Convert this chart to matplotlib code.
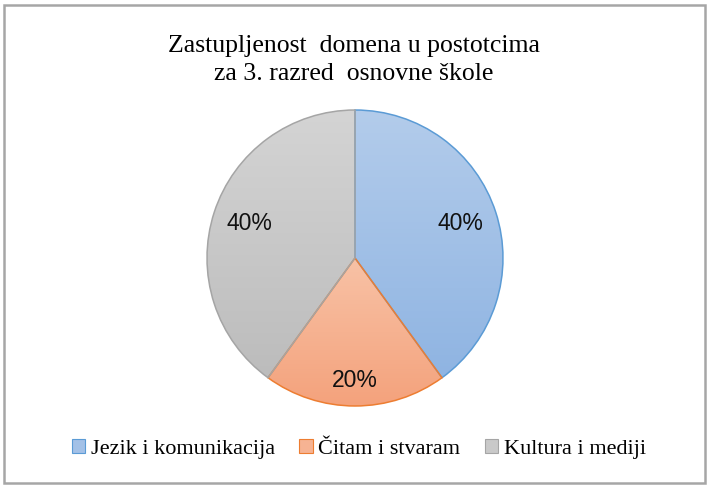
import numpy as np
import matplotlib
matplotlib.use("Agg")
from matplotlib import pyplot as plt
from matplotlib.colors import LinearSegmentedColormap
from matplotlib.patches import Rectangle, Patch

# data
categories = ["Jezik i komunikacija", "Čitam i stvaram", "Kultura i mediji"]
shares = [40, 20, 40]
title = "Zastupljenost  domena u postotcima\nza 3. razred  osnovne škole"

# gradient fills (top colour, bottom colour) and outlines, Excel style
grad_top = ["#B3CCEB", "#F8C2A6", "#D4D4D4"]
grad_bottom = ["#8FB4E2", "#F4A27C", "#BCBCBC"]
edges = ["#5B9BD5", "#ED7D31", "#A5A5A5"]
mid_colors = ["#A3C1E7", "#F6B393", "#C9C9C9"]
label_dist = [0.75, 0.83, 0.75]

fig = plt.figure(figsize=(7.09, 4.91), dpi=100)
ax = fig.add_axes([0.2711, 0.143, 0.4592, 0.6631])

wedges, _ = ax.pie(shares, colors=mid_colors, startangle=90, counterclock=False,
                   wedgeprops=dict(linewidth=1.1))

for i, w in enumerate(wedges):
    ext = w.get_path().get_extents()
    cmap = LinearSegmentedColormap.from_list("g%d" % i, [grad_bottom[i], grad_top[i]])
    grad = np.linspace(0, 1, 256).reshape(-1, 1)
    im = ax.imshow(grad, extent=[ext.x0, ext.x1, ext.y0, ext.y1], origin="lower",
                   cmap=cmap, aspect="auto", zorder=2, interpolation="bicubic")
    im.set_clip_path(w)
    w.set_facecolor("none")
    w.set_edgecolor(edges[i])
    w.set_zorder(3 + i)

    # percentage label
    ang = np.deg2rad((w.theta1 + w.theta2) / 2.0)
    d = label_dist[i]
    ax.text(d * np.cos(ang), d * np.sin(ang), "%d%%" % shares[i],
            ha="center", va="center", fontsize=16.5, family="Liberation Sans",
            color="#111111", zorder=10)

ax.set_xlim(-1.1, 1.1)
ax.set_ylim(-1.1, 1.1)
ax.set_aspect("equal")
ax.axis("off")

fig.text(0.499, 0.837, title, ha="center", va="baseline", fontsize=18.5,
         family="Liberation Serif", linespacing=1.38)

handles = [Patch(facecolor=mid_colors[i], edgecolor=edges[i], linewidth=0.8)
           for i in range(len(categories))]
fig.legend(handles, categories, loc="center", bbox_to_anchor=(0.506, 0.0855),
           ncol=3, frameon=False, handlelength=0.6, handleheight=0.6,
           handletextpad=0.25, columnspacing=1.1,
           prop={"family": "Liberation Serif", "size": 16})

# outer chart border
fig.patches.append(Rectangle((0.0056, 0.0163), 0.9888, 0.9735, transform=fig.transFigure,
                             fill=False, edgecolor="#A6A6A6", linewidth=1.8))

fig.savefig("out.png", dpi=100)
